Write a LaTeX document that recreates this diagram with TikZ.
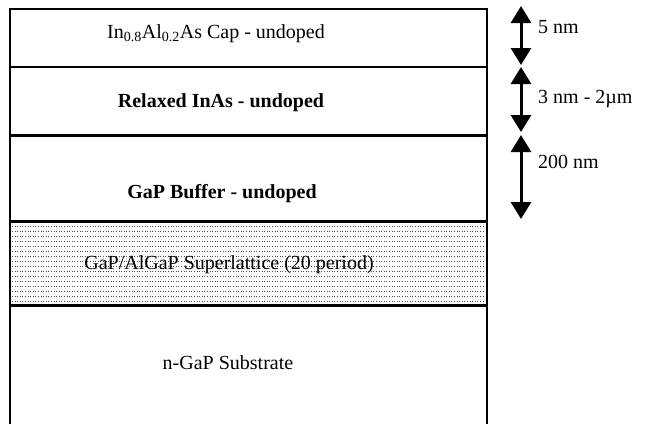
\documentclass[tikz,border=0pt]{standalone}
\usepackage{fontspec}
\setmainfont{Liberation Serif}
\usetikzlibrary{arrows.meta}
\begin{document}
\begin{tikzpicture}[x=1pt,y=-1pt,
  layerline/.style={line width=2.4pt},
  lbl/.style={font=\fontsize{20}{24}\selectfont, inner sep=0pt, anchor=base},
  dim/.style={font=\fontsize{20}{24}\selectfont, inner sep=0pt, anchor=base west},
  thick arrow/.style={line width=3pt, {Triangle[width=20pt,length=17pt]}-{Triangle[width=20pt,length=17pt]}},
  sl/.style={draw=black!70, line width=1pt, dash pattern=on 1pt off 1.6pt}]
\useasboundingbox (0,0) rectangle (646,424);

% superlattice hatching
\foreach \yy in {226,231,...,301}
  \draw[sl] (12,\yy) -- (485,\yy);

% layer stack outline
\draw[layerline] (10,424) -- (10,9) -- (487,9) -- (487,424);
\draw[layerline] (10,67) -- (487,67);
\draw[layerline, line width=3pt] (10,135) -- (487,135);
\draw[layerline, line width=3pt] (10,221) -- (487,221);
\draw[layerline, line width=3pt] (10,305) -- (487,305);

% layer labels
\node[lbl] (cap) at (216,38) {In\textsubscript{0.8}Al\textsubscript{0.2}As Cap - undoped};
\node[lbl] (inas) at (221,107) {\bfseries Relaxed InAs - undoped};
\node[lbl] (buf) at (222,198) {\bfseries GaP Buffer - undoped};
\node[lbl] (sup) at (229,269) {GaP/AlGaP Superlattice (20 period)};
\node[lbl] (sub) at (228,369) {n-GaP Substrate};

% thickness markers
\coordinate (a1t) at (521,6);
\coordinate (a1b) at (521,65);
\coordinate (a2t) at (521,67);
\coordinate (a2b) at (521,132);
\coordinate (a3t) at (521,135);
\coordinate (a3b) at (521,219);
\draw[thick arrow] (a1t) -- (a1b);
\draw[thick arrow] (a2t) -- (a2b);
\draw[thick arrow] (a3t) -- (a3b);

\node[dim] (d1) at (538,33) {5 nm};
\node[dim] (d2) at (538,103) {3 nm - 2µm};
\node[dim] (d3) at (538,168) {200 nm};
\end{tikzpicture}
\end{document}
